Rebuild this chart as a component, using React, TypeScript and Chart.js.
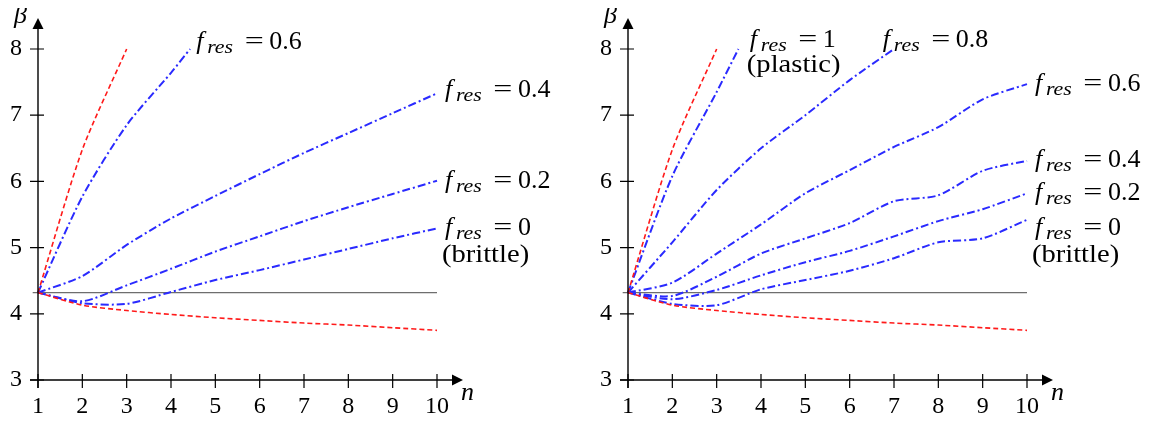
import React, { useEffect, useRef } from "react";
import { Chart, registerables } from "chart.js";

Chart.register(...registerables);

const SERIF = '"Liberation Serif"';

// Shared axes
const nTicks = [1, 2, 3, 4, 5, 6, 7, 8, 9, 10];
const betaRange = [3, 8];
const nRange = [1, 10];

// Horizontal reference level at the common starting value
const refN = [0.88, 10];
const refBeta = [4.32, 4.32];

// Red dashed bounds (identical in both panels)
const upperBoundN = [1, 2, 3];
const upperBound = [4.32, 6.48, 8.0];
const lowerBoundN = nTicks;
const lowerBound = [4.32, 4.13, 4.05, 3.99, 3.94, 3.9, 3.86, 3.83, 3.79, 3.75];

// Left panel: f_res curves
const leftF06N = [1, 2, 3, 4, 4.43];
const leftF06 = [4.32, 5.77, 6.85, 7.64, 8.0];
const leftF04 = [4.32, 4.57, 5.04, 5.44, 5.78, 6.11, 6.43, 6.73, 7.03, 7.33];
const leftF02 = [4.32, 4.19, 4.43, 4.68, 4.94, 5.17, 5.4, 5.61, 5.81, 6.01];
const leftF0 = [4.32, 4.16, 4.15, 4.33, 4.51, 4.66, 4.82, 4.98, 5.14, 5.29];

// Right panel: f_res curves
const rightF1N = [1, 2, 3, 3.49];
const rightF1 = [4.32, 6.08, 7.35, 8.0];
const rightF08N = [1, 2, 3, 4, 5, 6, 7];
const rightF08 = [4.32, 5.08, 5.87, 6.5, 7.0, 7.53, 8.0];
const rightF06 = [4.32, 4.47, 4.91, 5.35, 5.82, 6.17, 6.52, 6.82, 7.24, 7.47];
const rightF04 = [4.32, 4.27, 4.56, 4.91, 5.14, 5.37, 5.7, 5.79, 6.16, 6.31];
const rightF02 = [4.32, 4.22, 4.36, 4.58, 4.78, 4.95, 5.17, 5.4, 5.58, 5.82];
const rightF0 = [4.32, 4.15, 4.13, 4.37, 4.51, 4.65, 4.84, 5.08, 5.14, 5.42];

type Curve = { n: number[]; beta: number[]; kind: "bound" | "fres" | "ref" };

type Note =
  | { kind: "fres"; n: number; beta: number; value: string }
  | { kind: "text"; n: number; beta: number; text: string };

const leftCurves: Curve[] = [
  { n: upperBoundN, beta: upperBound, kind: "bound" },
  { n: lowerBoundN, beta: lowerBound, kind: "bound" },
  { n: leftF06N, beta: leftF06, kind: "fres" },
  { n: nTicks, beta: leftF04, kind: "fres" },
  { n: nTicks, beta: leftF02, kind: "fres" },
  { n: nTicks, beta: leftF0, kind: "fres" },
  { n: refN, beta: refBeta, kind: "ref" },
];

const rightCurves: Curve[] = [
  { n: upperBoundN, beta: upperBound, kind: "bound" },
  { n: lowerBoundN, beta: lowerBound, kind: "bound" },
  { n: rightF1N, beta: rightF1, kind: "fres" },
  { n: rightF08N, beta: rightF08, kind: "fres" },
  { n: nTicks, beta: rightF06, kind: "fres" },
  { n: nTicks, beta: rightF04, kind: "fres" },
  { n: nTicks, beta: rightF02, kind: "fres" },
  { n: nTicks, beta: rightF0, kind: "fres" },
  { n: refN, beta: refBeta, kind: "ref" },
];

const leftNotes: Note[] = [
  { kind: "fres", n: 4.5, beta: 8.0, value: "0.6" },
  { kind: "fres", n: 10.11, beta: 7.27, value: "0.4" },
  { kind: "fres", n: 10.11, beta: 5.9, value: "0.2" },
  { kind: "fres", n: 10.11, beta: 5.19, value: "0" },
  { kind: "text", n: 10.11, beta: 4.78, text: "(brittle)" },
];

const rightNotes: Note[] = [
  { kind: "fres", n: 3.68, beta: 8.03, value: "1" },
  { kind: "text", n: 3.68, beta: 7.65, text: "(plastic)" },
  { kind: "fres", n: 6.68, beta: 8.03, value: "0.8" },
  { kind: "fres", n: 10.11, beta: 7.36, value: "0.6" },
  { kind: "fres", n: 10.11, beta: 6.22, value: "0.4" },
  { kind: "fres", n: 10.11, beta: 5.72, value: "0.2" },
  { kind: "fres", n: 10.11, beta: 5.19, value: "0" },
  { kind: "text", n: 10.11, beta: 4.78, text: "(brittle)" },
];

const RED = "#ff1a1a";
const BLUE = "#2a2aff";

function toDataset(c: Curve) {
  const data = c.n.map((n, i) => ({ x: n, y: c.beta[i] }));
  if (c.kind === "ref") {
    return {
      data,
      borderColor: "#6e6e6e",
      borderWidth: 1.1,
      pointRadius: 0,
      tension: 0,
      clip: false as const,
    };
  }
  if (c.kind === "bound") {
    return {
      data,
      borderColor: RED,
      borderWidth: 1.6,
      borderDash: [5, 3],
      pointRadius: 0,
      tension: 0.25,
      clip: false as const,
    };
  }
  return {
    data,
    borderColor: BLUE,
    borderWidth: 2,
    borderDash: [8, 3, 2, 3],
    pointRadius: 0,
    tension: 0.25,
    clip: false as const,
  };
}

// f_res = value, with an italic subscripted symbol
function drawFres(ctx: CanvasRenderingContext2D, x: number, y: number, value: string) {
  ctx.textAlign = "left";
  ctx.textBaseline = "alphabetic";
  ctx.font = `italic 26px ${SERIF}`;
  ctx.fillText("f", x + 3, y);
  ctx.font = `italic 19px ${SERIF}`;
  ctx.save();
  ctx.translate(x + 14, y + 4);
  ctx.scale(1.15, 1);
  ctx.fillText("res", 0, 0);
  ctx.restore();
  ctx.font = `26px ${SERIF}`;
  ctx.save();
  ctx.translate(x + 61, y);
  ctx.scale(1.3, 1);
  ctx.textAlign = "center";
  ctx.fillText("=", 0, 0);
  ctx.restore();
  ctx.fillText(value, x + 76, y);
}

function makeAxesPlugin(notes: Note[]) {
  return {
    id: "arrowAxes",
    afterDraw(chart: Chart) {
      const { ctx, chartArea: a } = chart;
      const xs = chart.scales.x;
      const ys = chart.scales.y;
      const x0 = xs.getPixelForValue(nRange[0]);
      const y0 = ys.getPixelForValue(betaRange[0]);
      ctx.save();
      ctx.strokeStyle = "#000";
      ctx.fillStyle = "#000";
      ctx.lineWidth = 1.4;

      // axis lines
      ctx.beginPath();
      ctx.moveTo(x0 - 8, y0);
      ctx.lineTo(a.right + 16, y0);
      ctx.moveTo(x0, y0 + 8);
      ctx.lineTo(x0, a.top - 20);
      ctx.stroke();

      // arrow heads
      ctx.beginPath();
      ctx.moveTo(a.right + 26, y0);
      ctx.lineTo(a.right + 15, y0 - 5.5);
      ctx.lineTo(a.right + 15, y0 + 5.5);
      ctx.closePath();
      ctx.fill();
      ctx.beginPath();
      ctx.moveTo(x0, a.top - 31);
      ctx.lineTo(x0 - 5.5, a.top - 20);
      ctx.lineTo(x0 + 5.5, a.top - 20);
      ctx.closePath();
      ctx.fill();

      // tick marks crossing the axes
      ctx.lineWidth = 1.2;
      ctx.beginPath();
      xs.ticks.forEach((t) => {
        const px = xs.getPixelForValue(t.value);
        ctx.moveTo(px, y0 - 6);
        ctx.lineTo(px, y0 + 8);
      });
      ys.ticks.forEach((t) => {
        const py = ys.getPixelForValue(t.value);
        ctx.moveTo(x0 - 8, py);
        ctx.lineTo(x0 + 6, py);
      });
      ctx.stroke();

      // axis titles
      ctx.textBaseline = "alphabetic";
      ctx.textAlign = "left";
      ctx.font = `italic 26px ${SERIF}`;
      ctx.fillText("β", x0 - 24, a.top - 26);
      ctx.fillText("n", a.right + 24, y0 + 20);

      // curve annotations
      notes.forEach((note) => {
        const px = xs.getPixelForValue(note.n);
        const py = ys.getPixelForValue(note.beta);
        if (note.kind === "fres") {
          drawFres(ctx, px, py, note.value);
        } else {
          ctx.font = `26px ${SERIF}`;
          ctx.textAlign = "left";
          ctx.save();
          ctx.translate(px, py);
          ctx.scale(1.1, 1);
          ctx.fillText(note.text, 0, 0);
          ctx.restore();
        }
      });
      ctx.restore();
    },
  };
}

function Panel({ curves, notes, width }: { curves: Curve[]; notes: Note[]; width: number }) {
  const ref = useRef<HTMLCanvasElement>(null);
  useEffect(() => {
    const tickFont = { family: SERIF, size: 24 };
    const chart = new Chart(ref.current!, {
      type: "line",
      data: { datasets: curves.map(toDataset) as any },
      options: {
        animation: false,
        responsive: false,
        layout: { padding: { left: 0, top: 49, right: width - 437, bottom: 0 } },
        plugins: { legend: { display: false }, tooltip: { enabled: false } },
        scales: {
          x: {
            type: "linear",
            min: nRange[0],
            max: nRange[1],
            afterFit: (s: any) => {
              s.height = 43;
            },
            grid: { display: false, drawTicks: false },
            border: { display: false },
            ticks: {
              stepSize: 1,
              padding: 12,
              color: "#000",
              font: tickFont,
              maxRotation: 0,
              autoSkip: false,
            },
          },
          y: {
            type: "linear",
            min: betaRange[0],
            max: betaRange[1],
            afterFit: (s: any) => {
              s.width = 38;
            },
            grid: { display: false, drawTicks: false },
            border: { display: false },
            ticks: { stepSize: 1, padding: 16, color: "#000", font: tickFont },
          },
        },
      },
      plugins: [makeAxesPlugin(notes)],
    });
    return () => chart.destroy();
  }, []);
  return <canvas ref={ref} width={width} height={423} style={{ display: "block" }} />;
}

export default function App() {
  return (
    <div style={{ display: "flex", margin: "-8px 0 0 -8px", width: 1161, height: 423 }}>
      <Panel curves={leftCurves} notes={leftNotes} width={590} />
      <Panel curves={rightCurves} notes={rightNotes} width={571} />
    </div>
  );
}
